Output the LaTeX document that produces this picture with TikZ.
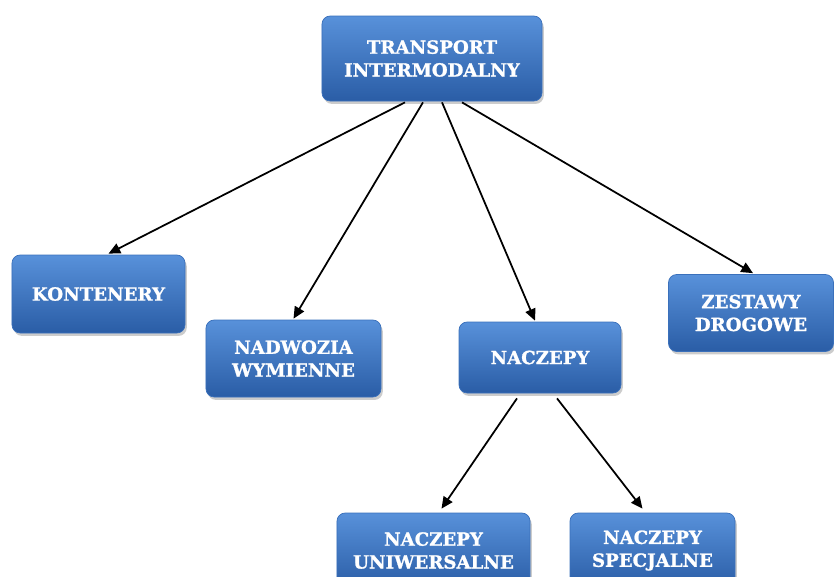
\documentclass[tikz,border=0pt]{standalone}
\usepackage{fontspec}
\setmainfont{DejaVu Serif}
\newfontfamily\boxfont{DejaVu Serif}[BoldFeatures={FakeBold=1.2}]
\usetikzlibrary{arrows.meta,shadows,calc}

\definecolor{boxtop}{HTML}{5891DA}
\definecolor{boxbot}{HTML}{2A5DA6}
\definecolor{boxline}{HTML}{3A70BB}

\begin{document}
\begin{tikzpicture}[x=0.03cm, y=-0.03cm,
    every node/.style={font=\boxfont\bfseries\fontsize{15.5}{19.5}\selectfont},
    box/.style={rectangle, rounded corners=7pt, inner sep=0pt, align=center,
                draw=boxline, line width=0.6pt, top color=boxtop, bottom color=boxbot,
                text=white,
                drop shadow={shadow xshift=1.5pt, shadow yshift=-2.5pt, opacity=0.4}},
    e/.style={-{Triangle[length=10pt, width=9pt]}, line width=1.5pt, black},
  ]
  \useasboundingbox (0,0) rectangle (834,576);
  \clip (0,0) rectangle (834,576);
  \node[box, minimum width=6.6cm, minimum height=2.55cm] (ti) at (432, 58.5) {TRANSPORT\\INTERMODALNY};
  \node[box, minimum width=5.19cm, minimum height=2.34cm] (kont) at (98.5, 294) {KONTENERY};
  \node[box, minimum width=5.25cm, minimum height=2.31cm] (nadw) at (293.5, 358.5) {NADWOZIA\\WYMIENNE};
  \node[box, minimum width=4.86cm, minimum height=2.13cm] (nacz) at (540, 357.5) {NACZEPY};
  \node[box, minimum width=4.95cm, minimum height=2.31cm] (zest) at (751, 313) {ZESTAWY\\DROGOWE};
  \node[box, minimum width=5.79cm, minimum height=2.25cm] (uniw) at (433.5, 550.5) {NACZEPY\\UNIWERSALNE};
  \node[box, minimum width=4.95cm, minimum height=2.25cm] (spec) at (652.5, 550.5) {NACZEPY\\SPECJALNE};
  % arrows from the top box
  \draw[e] ($(ti.south)+(-27,1)$) -- ($(kont.north)+(10,-1)$);
  \draw[e] ($(ti.south)+(-9,1)$) -- ($(nadw.north)+(0,-1)$);
  \draw[e] ($(ti.south)+(10,1)$) -- ($(nacz.north)+(-5,-1)$);
  \draw[e] ($(ti.south)+(30,1)$) -- ($(zest.north)+(2,-1)$);
  % naczepy
  \draw[e] ($(nacz.south)+(-23,5)$) -- ($(uniw.north)+(8,-4)$);
  \draw[e] ($(nacz.south)+(17,5)$) -- ($(spec.north)+(-10,-4)$);
\end{tikzpicture}
\end{document}
